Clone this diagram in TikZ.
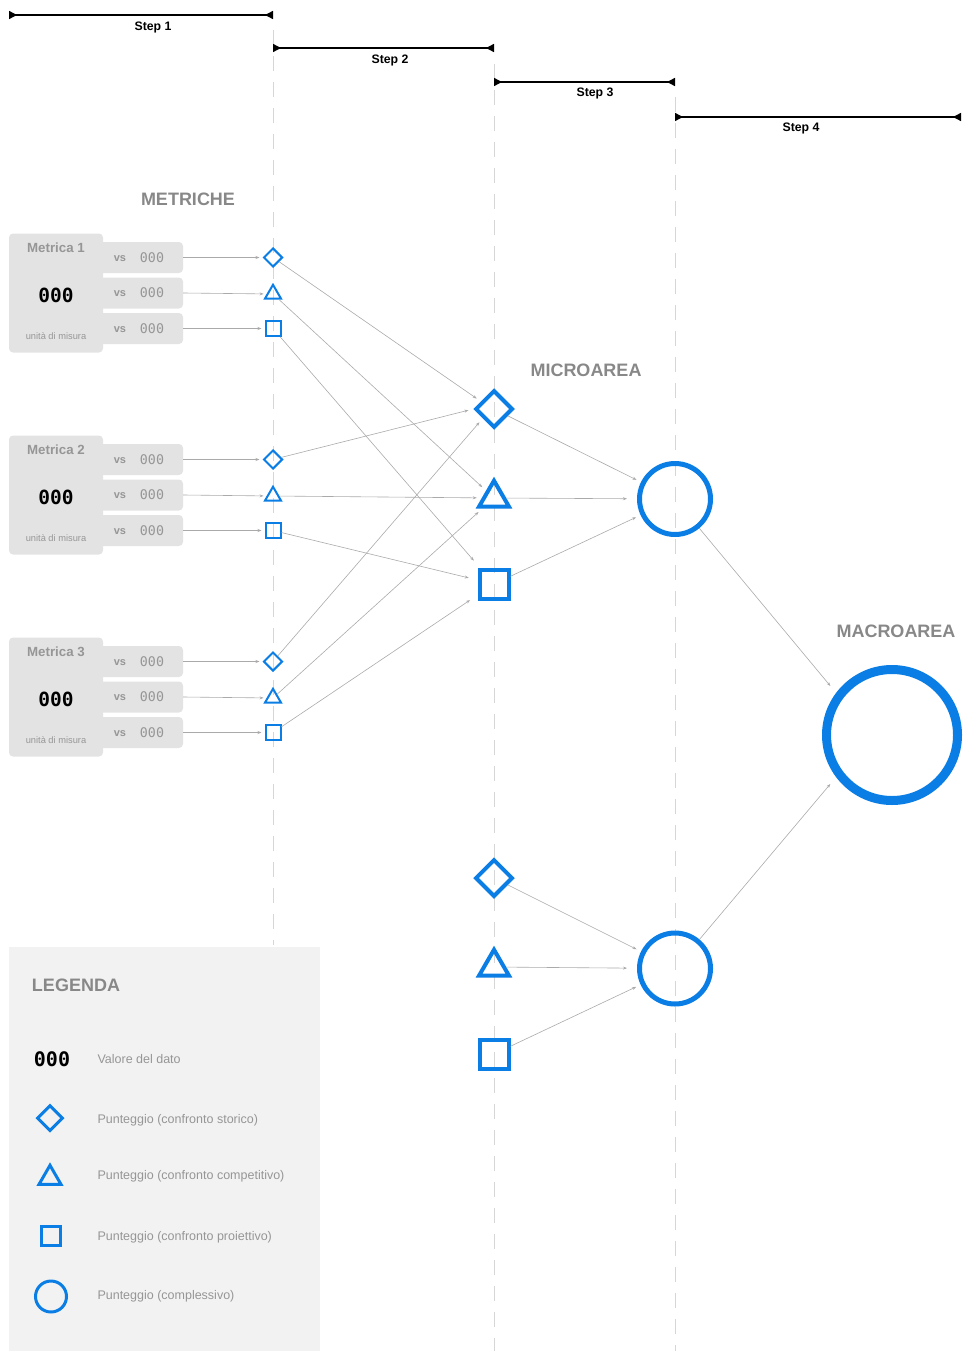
\documentclass[tikz,border=0pt]{standalone}
\usepackage{fontspec}
\setmainfont{Liberation Sans}
\newfontfamily\digitfont{DejaVu Sans Mono}
\usetikzlibrary{arrows.meta,shapes.geometric}

\definecolor{scoreblue}{RGB}{10,126,229}
\definecolor{headgray}{RGB}{136,136,136}
\definecolor{softgray}{RGB}{150,150,150}
\definecolor{boxgray}{RGB}{227,227,227}
\definecolor{legendbg}{RGB}{242,242,242}
\definecolor{guidegray}{RGB}{214,214,214}
\definecolor{linkgray}{RGB}{170,170,170}

\tikzset{
  stepline/.style={line width=1.4pt,
    {Triangle[reversed,length=8pt,width=8pt]}-{Triangle[reversed,length=8pt,width=8pt]}},
  steplabel/.style={font=\fontsize{12.3}{14}\selectfont\bfseries},
  guide/.style={guidegray, line width=1pt, dash pattern=on 15pt off 11pt},
  header/.style={font=\fontsize{18}{20}\selectfont\bfseries, text=headgray},
  metricbox/.style={fill=boxgray, rounded corners=4pt, minimum width=94pt,
    minimum height=119pt, inner sep=0pt},
  vsbox/.style={fill=boxgray, rounded corners=4pt, minimum width=84pt,
    minimum height=31pt, inner sep=0pt},
  metrictitle/.style={font=\fontsize{13.3}{15}\selectfont\bfseries, text=softgray},
  bigval/.style={font=\fontsize{19.5}{22}\selectfont\digitfont\bfseries, text=black},
  unitlabel/.style={font=\fontsize{9.3}{11}\selectfont, text=softgray},
  vslabel/.style={font=\fontsize{11}{13}\selectfont\bfseries, text=softgray},
  vsval/.style={font=\fontsize{13.3}{15}\selectfont\digitfont, text=softgray},
  shp/.style={draw=scoreblue, inner sep=0pt},
  sdiam/.style={shp, diamond, line width=2pt, minimum width=19pt, minimum height=19pt},
  stri/.style={shp, regular polygon, regular polygon sides=3, line width=2pt, minimum size=18.5pt},
  ssq/.style={shp, rectangle, line width=2pt, minimum size=15pt},
  mdiam/.style={shp, diamond, line width=4pt, minimum width=37.5pt, minimum height=37.5pt},
  mtri/.style={shp, regular polygon, regular polygon sides=3, line width=4pt, minimum size=34.6pt},
  msq/.style={shp, rectangle, line width=4pt, minimum size=29pt},
  mcirc/.style={shp, circle, line width=5pt, minimum size=71pt},
  bigcirc/.style={shp, circle, line width=9pt, minimum size=131pt},
  ldiam/.style={shp, diamond, line width=3pt, minimum width=26pt, minimum height=26pt},
  ltri/.style={shp, regular polygon, regular polygon sides=3, line width=3pt, minimum size=25.4pt},
  lsq/.style={shp, rectangle, line width=3pt, minimum size=19pt},
  lcirc/.style={shp, circle, line width=3pt, minimum size=31pt},
  link/.style={linkgray, line width=0.6pt, -{Stealth[length=4pt,width=3pt]}, shorten >=3pt},
  legendtext/.style={font=\fontsize{12.5}{14}\selectfont, text=softgray, anchor=west},
}

\begin{document}
\begin{tikzpicture}[x=1pt,y=-1pt]
\useasboundingbox (0,0) rectangle (965,1351);

% step ruler end points
\coordinate (r0) at (9,15);    \coordinate (r1) at (273,15);
\coordinate (r2) at (273,48);  \coordinate (r3) at (494,48);
\coordinate (r4) at (494,82);  \coordinate (r5) at (675,82);
\coordinate (r6) at (675,117); \coordinate (r7) at (961,117);

% dashed column guides
\coordinate (g1a) at (273,30);  \coordinate (g1b) at (273,945);
\coordinate (g2a) at (494,64);  \coordinate (g2b) at (494,1351);
\coordinate (g3a) at (675,97);  \coordinate (g3b) at (675,1351);
\draw[guide] (g1a) -- (g1b);
\draw[guide] (g2a) -- (g2b);
\draw[guide] (g3a) -- (g3b);

% steps
\draw[stepline] (r0) -- (r1);
\draw[stepline] (r2) -- (r3);
\draw[stepline] (r4) -- (r5);
\draw[stepline] (r6) -- (r7);
\node[steplabel] (st1) at (153,27) {Step 1};
\node[steplabel] (st2) at (390,60) {Step 2};
\node[steplabel] (st3) at (595,93.5) {Step 3};
\node[steplabel] (st4) at (801,128.5) {Step 4};

% column headers
\node[header] (hmet) at (188,199) {METRICHE};
\node[header] (hmic) at (586,370) {MICROAREA};
\node[header] (hmac) at (896,631) {MACROAREA};

% metric blocks with their three comparisons
\foreach \i/\dy in {1/0,2/202,3/404}{
  \node[vsbox] (m\i v1) at (141,257.5+\dy) {};
  \node[vsbox] (m\i v2) at (141,293+\dy) {};
  \node[vsbox] (m\i v3) at (141,328.5+\dy) {};
  \node[metricbox] (m\i) at (56,293+\dy) {};
  \node[metrictitle] (m\i title) at (56,248+\dy) {Metrica \i};
  \node[bigval] (m\i val) at (56,295+\dy) {000};
  \node[unitlabel] (m\i unit) at (56,336+\dy) {unità di misura};
  \foreach \k/\yy in {1/257.5,2/293,3/328.5}{
    \node[vslabel] (m\i vs\k) at (120,\yy+1+\dy) {vs};
    \node[vsval] (m\i vv\k) at (152,\yy+\dy) {000};
  }
  \node[sdiam] (m\i d) at (273,257.5+\dy) {};
  \node[stri] (m\i t) at (273,294+\dy) {};
  \node[ssq] (m\i s) at (273,328.5+\dy) {};
  \draw[link] (m\i v1.east) -- (m\i d);
  \draw[link] (m\i v2.east) -- (m\i t);
  \draw[link] (m\i v3.east) -- (m\i s);
}

% micro areas
\node[mdiam] (ad) at (494,409) {};
\node[mtri]  (at) at (494,498) {};
\node[msq]   (as) at (494,584) {};
\node[mcirc] (ac) at (675,499) {};
\node[mdiam] (bd) at (494,878) {};
\node[mtri]  (bt) at (494,967) {};
\node[msq]   (bs) at (494,1054) {};
\node[mcirc] (bc) at (675,968.5) {};

% macro area
\node[bigcirc] (mc) at (892,735) {};

% metrics to micro area
\draw[link, shorten >=5pt] (m1d) -- (ad.150);
\draw[link, shorten >=5pt] (m2d) -- (ad.west);
\draw[link, shorten >=5pt] (m3d) -- (ad.220);
\foreach \i in {1,2,3}{
  \draw[link, shorten >=5pt] (m\i t) -- (at);
  \draw[link, shorten >=9pt] (m\i s) -- (as);
}

% micro area to overall score
\draw[link, shorten >=5pt] (ad) -- (ac);
\draw[link, shorten >=10pt] (at) -- (ac);
\draw[link, shorten >=5pt] (as) -- (ac);
\draw[link, shorten >=5pt] (bd) -- (bc);
\draw[link, shorten >=10pt] (bt) -- (bc);
\draw[link, shorten >=5pt] (bs) -- (bc);

% overall scores to macro area
\draw[link, shorten >=9pt] (ac) -- (mc.143);
\draw[link, shorten >=9pt] (bc) -- (mc.217);

% legend
\fill[legendbg] (9,947) rectangle (320,1351);
\node[header] (hleg) at (76,985) {LEGENDA};
\node[bigval, font=\fontsize{20}{22}\selectfont\digitfont\bfseries] (lval) at (52,1059) {000};
\node[ldiam] (ldia) at (50,1118) {};
\node[ltri]  (ltr)  at (50,1178) {};
\node[lsq]   (lsq)  at (51,1236) {};
\node[lcirc] (lci)  at (51,1296.5) {};
\node[legendtext] (lt1) at (94,1059.5) {Valore del dato};
\node[legendtext] (lt2) at (94,1120.5) {Punteggio (confronto storico)};
\node[legendtext] (lt3) at (94,1176.5) {Punteggio (confronto competitivo)};
\node[legendtext] (lt4) at (94,1237.5) {Punteggio (confronto proiettivo)};
\node[legendtext] (lt5) at (94,1296.5) {Punteggio (complessivo)};
\end{tikzpicture}
\end{document}
